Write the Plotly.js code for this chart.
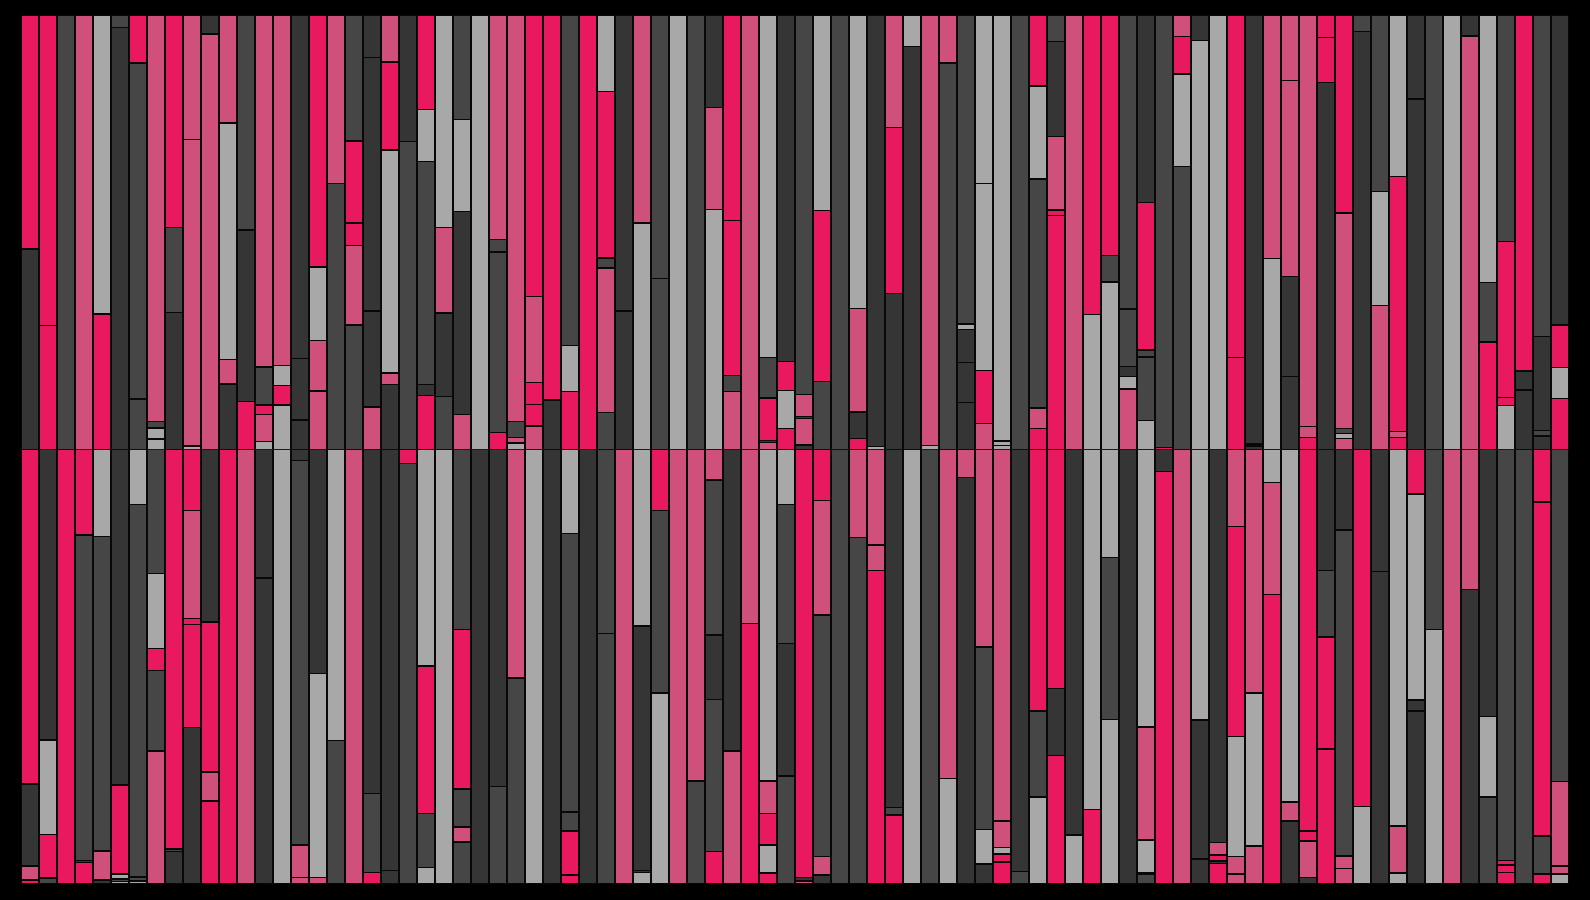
<!DOCTYPE html>
<html>
<head>
<meta charset="utf-8">
<script src="https://cdn.plot.ly/plotly-3.0.1.min.js"></script>
<style>
  html, body { margin: 0; padding: 0; background: #000; }
  #chart { width: 1590px; height: 900px; }
</style>
</head>
<body>
<div id="chart"></div>
<script>
'use strict';

// colour codes used in the segment strings below
var palette = { P: '#e8195e', M: '#cf517b', D: '#353535', G: '#464646', L: '#a8a8a8' };

// upper band: each column's segments listed from top to bottom
var topColors = [
  'PD', 'PP', 'G', 'M', 'LP', 'GD', 'PGG', 'MGLL', 'PGD', 'MML',
  'DM', 'MLMD', 'GDP', 'MGPML', 'MLPL', 'DDD', 'PLMM', 'MG', 'GPPMG', 'DDDM',
  'MPLMD', 'DG', 'PLGDP', 'LMDG', 'GLDM', 'L', 'MGGP', 'MGML', 'PMPPM', 'PD',
  'GLP', 'P', 'LPGMG', 'DD', 'ML', 'GG', 'L', 'G', 'DML', 'PPGM',
  'M', 'LGPDM', 'DPLP', 'GMDMD', 'LPG', 'G', 'LMDP', 'DL', 'MPD', 'LD',
  'ML', 'MG', 'GLDDD', 'LLPM', 'LLL', 'G', 'PLGMP', 'GDMPP', 'M', 'PL',
  'PGL', 'GGDLM', 'DPGGL', 'GP', 'MPLG', 'DL', 'L', 'PP', 'DDD', 'ML',
  'MMDD', 'MMP', 'PPD', 'PMGLM', 'GD', 'GLM', 'LPMP', 'DD', 'G', 'L',
  'DM', 'LGP', 'GPPL', 'PDD', 'GDGD', 'DPLP'
];
var topValues = [
  [0.539, 0.461], [0.715, 0.285], [1], [1], [0.688, 0.312],
  [0.029, 0.971], [0.110, 0.774, 0.116], [0.936, 0.015, 0.025, 0.024], [0.489, 0.196, 0.315], [0.287, 0.705, 0.008],
  [0.044, 0.956], [0.248, 0.545, 0.056, 0.151], [0.495, 0.395, 0.110], [0.810, 0.088, 0.022, 0.062, 0.018], [0.807, 0.046, 0.045, 0.102],
  [0.790, 0.142, 0.068], [0.579, 0.169, 0.117, 0.134], [0.388, 0.612], [0.290, 0.189, 0.052, 0.183, 0.286], [0.098, 0.583, 0.221, 0.098],
  [0.108, 0.203, 0.513, 0.026, 0.150], [0.291, 0.709], [0.217, 0.120, 0.512, 0.026, 0.124], [0.489, 0.197, 0.192, 0.122], [0.240, 0.212, 0.466, 0.081],
  [1], [0.517, 0.028, 0.416, 0.039], [0.936, 0.037, 0.013, 0.015], [0.648, 0.198, 0.050, 0.050, 0.054], [0.886, 0.114],
  [0.761, 0.106, 0.133], [1], [0.176, 0.383, 0.023, 0.333, 0.085], [0.681, 0.319], [0.479, 0.521],
  [0.606, 0.394], [1], [1], [0.213, 0.235, 0.552], [0.473, 0.357, 0.037, 0.133],
  [1], [0.788, 0.094, 0.097, 0.005, 0.016], [0.798, 0.066, 0.088, 0.048], [0.873, 0.051, 0.005, 0.061, 0.010], [0.450, 0.393, 0.157],
  [1], [0.676, 0.238, 0.061, 0.025], [0.993, 0.007], [0.259, 0.382, 0.359], [0.073, 0.927],
  [0.991, 0.009], [0.110, 0.890], [0.712, 0.012, 0.076, 0.093, 0.108], [0.388, 0.430, 0.122, 0.060], [0.981, 0.010, 0.009],
  [1], [0.163, 0.214, 0.528, 0.047, 0.048], [0.061, 0.219, 0.169, 0.013, 0.538], [1], [0.689, 0.311],
  [0.554, 0.060, 0.386], [0.677, 0.132, 0.023, 0.029, 0.139], [0.432, 0.340, 0.016, 0.146, 0.067], [0.995, 0.005], [0.050, 0.086, 0.213, 0.651],
  [0.059, 0.941], [1], [0.788, 0.212], [0.987, 0.005, 0.008], [0.560, 0.440],
  [0.151, 0.451, 0.230, 0.168], [0.947, 0.025, 0.028], [0.052, 0.103, 0.845], [0.456, 0.497, 0.011, 0.012, 0.025], [0.038, 0.962],
  [0.406, 0.262, 0.331], [0.372, 0.587, 0.014, 0.028], [0.193, 0.807], [1], [1],
  [0.048, 0.952], [0.616, 0.137, 0.247], [0.521, 0.359, 0.018, 0.101], [0.818, 0.044, 0.137], [0.740, 0.216, 0.013, 0.031],
  [0.713, 0.098, 0.071, 0.117]
];

// lower band: same layout, top to bottom
var bottomColors = [
  'PDMP', 'DLPG', 'P', 'PGDP', 'LGMD', 'DPLGL', 'LGGL', 'GLPGM', 'PGD', 'PMPPD',
  'DPMP', 'P', 'M', 'DD', 'L', 'DGMM', 'DLM', 'LG', 'M', 'DGP',
  'DD', 'PG', 'LPGL', 'L', 'GPGMG', 'D', 'DG', 'MG', 'L', 'D',
  'LGGPP', 'D', 'GG', 'M', 'LDDL', 'PGL', 'M', 'MG', 'MGDGP', 'DM',
  'MP', 'LMPLP', 'LGDG', 'PDM', 'PMGMD', 'G', 'MG', 'MMP', 'DGP', 'L',
  'G', 'ML', 'MD', 'MGLD', 'MMLPP', 'DG', 'PGL', 'PDP', 'DL', 'LP',
  'LGL', 'D', 'LMLDG', 'DP', 'M', 'LDD', 'DMPDP', 'MPLMM', 'MLM', 'LMP',
  'LMD', 'PPMD', 'DGPP', 'DGMM', 'PL', 'DD', 'LML', 'PLDD', 'GL', 'M',
  'MD', 'DLG', 'GPPP', 'G', 'PPGP', 'GMML'
];
var bottomValues = [
  [0.770, 0.188, 0.033, 0.009], [0.668, 0.218, 0.100, 0.014], [1], [0.197, 0.749, 0.004, 0.050], [0.200, 0.724, 0.067, 0.009],
  [0.772, 0.205, 0.011, 0.006, 0.006], [0.127, 0.857, 0.009, 0.007], [0.285, 0.172, 0.051, 0.185, 0.306], [0.920, 0.005, 0.075], [0.140, 0.249, 0.014, 0.237, 0.361],
  [0.397, 0.345, 0.067, 0.191], [1], [1], [0.296, 0.704], [1],
  [0.025, 0.885, 0.075, 0.015], [0.515, 0.470, 0.015], [0.670, 0.330], [1], [0.792, 0.182, 0.026],
  [0.969, 0.031], [0.032, 0.968], [0.498, 0.339, 0.124, 0.038], [1], [0.414, 0.366, 0.088, 0.034, 0.097],
  [1], [0.776, 0.224], [0.526, 0.474], [1], [1],
  [0.193, 0.641, 0.044, 0.101, 0.021], [1], [0.423, 0.577], [1], [0.407, 0.563, 0.004, 0.027],
  [0.140, 0.420, 0.440], [1], [0.763, 0.237], [0.070, 0.357, 0.148, 0.350, 0.075], [0.694, 0.306],
  [0.400, 0.600], [0.763, 0.075, 0.072, 0.065, 0.025], [0.127, 0.320, 0.304, 0.249], [0.985, 0.008, 0.007], [0.117, 0.264, 0.556, 0.042, 0.021],
  [1], [0.203, 0.797], [0.220, 0.059, 0.721], [0.824, 0.017, 0.159], [1],
  [1], [0.757, 0.243], [0.064, 0.936], [0.454, 0.420, 0.080, 0.046], [0.855, 0.061, 0.015, 0.018, 0.051],
  [0.971, 0.029], [0.602, 0.198, 0.200], [0.550, 0.154, 0.296], [0.887, 0.113], [0.829, 0.171],
  [0.248, 0.373, 0.379], [1], [0.639, 0.260, 0.074, 0.004, 0.023], [0.051, 0.949], [1],
  [0.623, 0.319, 0.058], [0.905, 0.028, 0.014, 0.006, 0.047], [0.177, 0.483, 0.277, 0.040, 0.023], [0.560, 0.352, 0.088], [0.076, 0.258, 0.666],
  [0.811, 0.044, 0.145], [0.877, 0.023, 0.084, 0.015], [0.278, 0.154, 0.257, 0.311], [0.185, 0.750, 0.029, 0.036], [0.822, 0.178],
  [0.281, 0.719], [0.866, 0.109, 0.025], [0.102, 0.475, 0.025, 0.398], [0.414, 0.586], [1],
  [0.322, 0.678], [0.615, 0.185, 0.200], [0.946, 0.010, 0.017, 0.027], [1], [0.121, 0.768, 0.088, 0.023],
  [0.764, 0.194, 0.019, 0.023]
];

/**
 * One bar trace per stacking level: level 0 is the bottom segment of every column.
 */
function buildTraces(colors, values, yaxis) {
    var traces = [];
    var depth = Math.max.apply(null, colors.map(function(c) { return c.length; }));

    for (var k = 0; k < depth; k++) {
        var x = [], y = [], fill = [];
        colors.forEach(function(code, i) {
            var idx = code.length - 1 - k;
            x.push(i + 1);
            if (idx >= 0) {
                y.push(values[i][idx]);
                fill.push(palette[code[idx]]);
            } else {
                y.push(null);
                fill.push('#000');
            }
        });
        traces.push({
            type: 'bar',
            x: x,
            y: y,
            xaxis: 'x',
            yaxis: yaxis,
            marker: { color: fill, line: { color: '#080808', width: 1.5 } },
            hoverinfo: 'skip',
            showlegend: false
        });
    }
    return traces;
}

var data = buildTraces(topColors, topValues, 'y')
    .concat(buildTraces(bottomColors, bottomValues, 'y2'));

var layout = {
    width: 1590,
    height: 900,
    paper_bgcolor: '#000',
    plot_bgcolor: '#000',
    margin: { l: 21, r: 21, t: 15, b: 16 },
    barmode: 'stack',
    barnorm: 'fraction',
    bargap: 0.04,
    showlegend: false,
    xaxis: { range: [0.5, topColors.length + 0.5], visible: false, fixedrange: true },
    yaxis: { domain: [0.5, 1], range: [0, 1], visible: false, fixedrange: true },
    yaxis2: { domain: [0, 0.5], range: [0, 1], visible: false, fixedrange: true }
};

Plotly.newPlot('chart', data, layout, { displayModeBar: false, staticPlot: true });
</script>
</body>
</html>
